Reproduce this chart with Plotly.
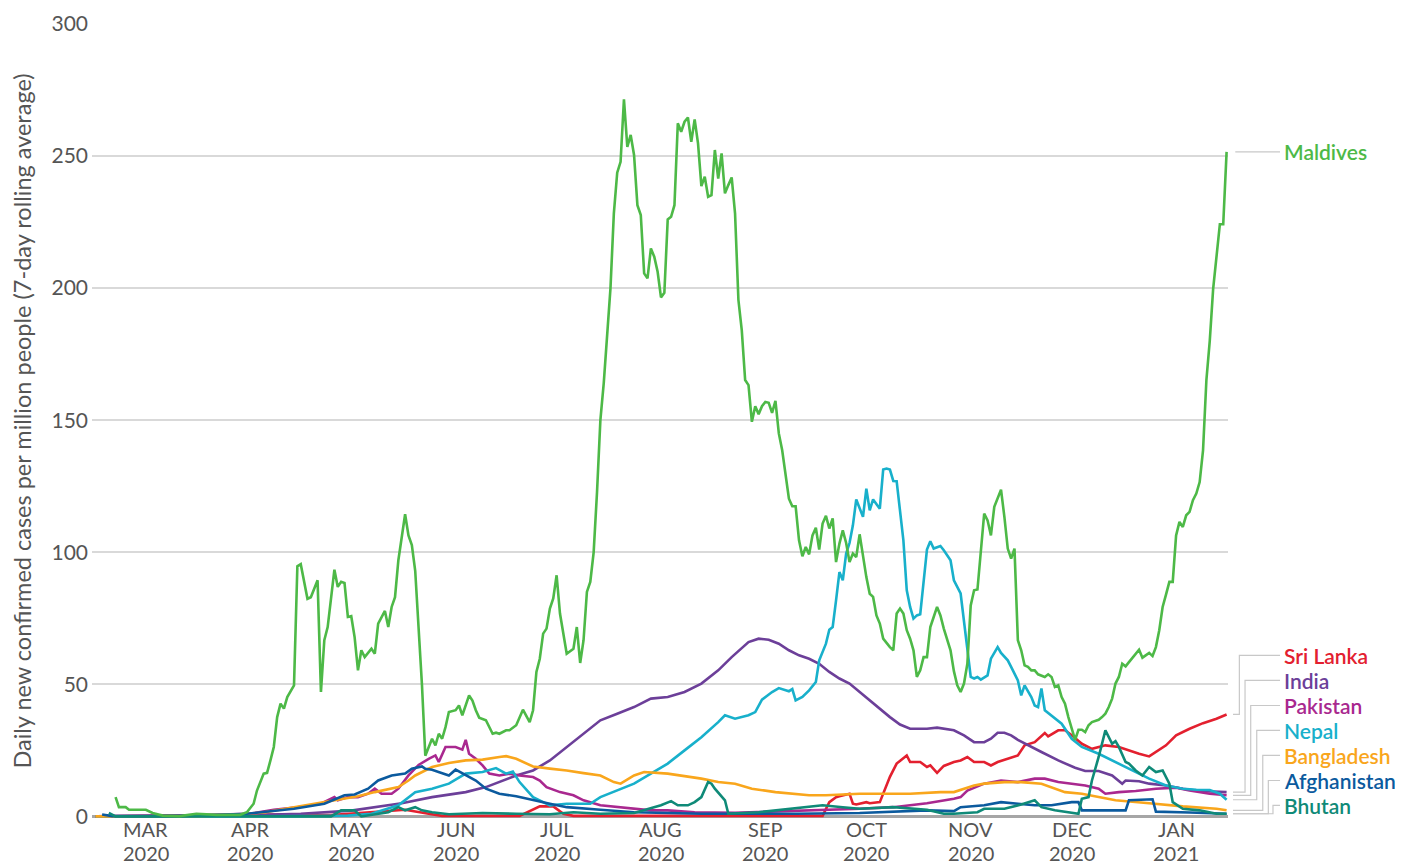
import plotly.graph_objects as go

# ---------------- data (7-day rolling average, cases per million) ----------------
maldives_dates = [
    "2020-03-07","2020-03-08","2020-03-10","2020-03-11","2020-03-16","2020-03-18","2020-03-21","2020-03-26",
    "2020-03-31","2020-04-06","2020-04-13","2020-04-15","2020-04-17","2020-04-18","2020-04-20","2020-04-21",
    "2020-04-22","2020-04-23","2020-04-24","2020-04-25","2020-04-26","2020-04-27","2020-04-29","2020-04-30",
    "2020-05-01","2020-05-03","2020-05-04","2020-05-06","2020-05-07","2020-05-08","2020-05-09","2020-05-11",
    "2020-05-12","2020-05-13","2020-05-14","2020-05-15","2020-05-16","2020-05-17","2020-05-18","2020-05-19",
    "2020-05-20","2020-05-22","2020-05-23","2020-05-24","2020-05-26","2020-05-27","2020-05-28","2020-05-29",
    "2020-05-30","2020-05-31","2020-06-01","2020-06-02","2020-06-03","2020-06-04","2020-06-05","2020-06-06",
    "2020-06-07","2020-06-08","2020-06-09","2020-06-10","2020-06-11","2020-06-12","2020-06-13","2020-06-14",
    "2020-06-16","2020-06-17","2020-06-18","2020-06-20","2020-06-21","2020-06-22","2020-06-23","2020-06-25",
    "2020-06-27","2020-06-28","2020-06-29","2020-07-01","2020-07-02","2020-07-04","2020-07-06","2020-07-08",
    "2020-07-09","2020-07-10","2020-07-11","2020-07-12","2020-07-13","2020-07-14","2020-07-15","2020-07-16",
    "2020-07-17","2020-07-19","2020-07-21","2020-07-22","2020-07-23","2020-07-24","2020-07-25","2020-07-26",
    "2020-07-27","2020-07-28","2020-07-29","2020-07-30","2020-07-31","2020-08-01","2020-08-02","2020-08-03",
    "2020-08-04","2020-08-05","2020-08-06","2020-08-07","2020-08-08","2020-08-09","2020-08-10","2020-08-11",
    "2020-08-12","2020-08-13","2020-08-14","2020-08-15","2020-08-16","2020-08-17","2020-08-18","2020-08-19",
    "2020-08-20","2020-08-21","2020-08-22","2020-08-23","2020-08-24","2020-08-25","2020-08-26","2020-08-27",
    "2020-08-28","2020-08-29","2020-08-30","2020-08-31","2020-09-01","2020-09-02","2020-09-03","2020-09-04",
    "2020-09-05","2020-09-06","2020-09-07","2020-09-08","2020-09-09","2020-09-10","2020-09-11","2020-09-12",
    "2020-09-13","2020-09-14","2020-09-15","2020-09-16","2020-09-17","2020-09-18","2020-09-19","2020-09-20",
    "2020-09-21","2020-09-22","2020-09-23","2020-09-24","2020-09-25","2020-09-26","2020-09-27","2020-09-28",
    "2020-09-29","2020-09-30","2020-10-01","2020-10-02","2020-10-03","2020-10-04","2020-10-05","2020-10-06",
    "2020-10-07","2020-10-08","2020-10-09","2020-10-10","2020-10-11","2020-10-12","2020-10-13","2020-10-14",
    "2020-10-15","2020-10-16","2020-10-17","2020-10-18","2020-10-19","2020-10-20","2020-10-21","2020-10-22",
    "2020-10-23","2020-10-24","2020-10-25","2020-10-26","2020-10-27","2020-10-28","2020-10-29","2020-10-30",
    "2020-10-31","2020-11-01","2020-11-02","2020-11-03","2020-11-04","2020-11-05","2020-11-06","2020-11-07",
    "2020-11-08","2020-11-10","2020-11-11","2020-11-12","2020-11-13","2020-11-14","2020-11-15","2020-11-16",
    "2020-11-17","2020-11-18","2020-11-19","2020-11-20","2020-11-21","2020-11-22","2020-11-23","2020-11-24",
    "2020-11-25","2020-11-26","2020-11-27","2020-11-28","2020-11-29","2020-11-30","2020-12-01","2020-12-02",
    "2020-12-03","2020-12-04","2020-12-05","2020-12-06","2020-12-08","2020-12-09","2020-12-10","2020-12-11",
    "2020-12-12","2020-12-13","2020-12-14","2020-12-15","2020-12-16","2020-12-17","2020-12-18","2020-12-19",
    "2020-12-20","2020-12-21","2020-12-22","2020-12-24","2020-12-25","2020-12-26","2020-12-27","2020-12-28",
    "2020-12-29","2020-12-30","2020-12-31","2021-01-01","2021-01-02","2021-01-04","2021-01-05","2021-01-06",
    "2021-01-07","2021-01-08","2021-01-09","2021-01-10","2021-01-11","2021-01-12","2021-01-13","2021-01-14",
    "2021-01-15","2021-01-16","2021-01-17","2021-01-18","2021-01-19","2021-01-20","2021-01-21","2021-01-22",
    "2021-01-23","2021-01-24","2021-01-25","2021-01-26","2021-01-27","2021-01-28","2021-01-29","2021-01-30",
    "2021-01-31",
]
maldives_values = [
    7.3, 3.5, 3.5, 2.5, 2.5, 1.3, 0.3, 0.1,
    1.0, 0.6, 0.6, 1.6, 4.8, 9.8, 16.2, 16.5,
    21.2, 26.3, 37.6, 42.7, 40.8, 45.2, 49.6, 94.7,
    95.5, 82.4, 83.0, 89.4, 47.1, 66.7, 71.7, 93.4,
    86.9, 88.8, 88.4, 75.5, 75.8, 67.9, 55.3, 62.9,
    60.3, 63.5, 61.6, 73.0, 77.8, 71.7, 79.3, 83.0,
    97.0, 106.0, 114.4, 106.4, 102.7, 93.0, 72.0, 50.0,
    23.0, 26.3, 29.4, 26.9, 31.3, 29.4, 33.8, 39.5,
    40.2, 42.0, 38.3, 45.8, 43.9, 40.2, 37.4, 36.4,
    31.3, 31.7, 31.3, 32.6, 32.6, 34.5, 40.4, 35.7,
    40.2, 54.7, 59.7, 69.2, 71.1, 78.7, 82.5, 91.3,
    76.8, 61.6, 63.5, 71.7, 58.1, 66.7, 85.0, 88.8,
    100.0, 122.7, 150.0, 164.0, 184.0, 200.0, 228.3, 243.7,
    247.8, 271.5, 253.5, 258.0, 250.4, 231.4, 227.7, 205.6,
    203.7, 215.0, 211.9, 206.2, 196.5, 198.2, 226.0, 227.0,
    231.4, 262.4, 259.2, 263.0, 264.6, 255.4, 263.9, 254.8,
    238.6, 242.2, 234.6, 235.2, 252.3, 241.5, 251.0, 235.9,
    239.0, 241.9, 228.3, 195.5, 184.0, 165.2, 163.3, 149.4,
    155.3, 152.3, 155.3, 156.9, 156.6, 152.8, 157.3, 145.0,
    138.6, 129.2, 120.3, 117.4, 117.4, 104.5, 98.5, 102.0,
    99.2, 106.4, 109.3, 101.0, 110.9, 113.8, 109.0, 112.8,
    96.3, 103.3, 108.3, 103.5, 96.3, 99.5, 98.2, 106.8,
    98.2, 90.6, 84.3, 83.1, 76.1, 73.0, 67.3, 65.5,
    64.1, 62.9, 76.8, 78.7, 76.8, 70.5, 67.3, 62.9,
    52.8, 55.3, 60.3, 60.3, 71.7, 75.5, 79.3, 76.1,
    71.1, 62.9, 55.0, 49.6, 47.1, 50.3, 57.8, 79.9,
    85.6, 85.9, 100.8, 114.6, 112.1, 106.4, 117.2, 120.3,
    123.7, 113.4, 101.4, 97.6, 101.4, 66.7, 62.9, 57.2,
    56.6, 55.3, 55.3, 53.8, 52.8, 53.8, 52.8, 49.0,
    49.6, 45.2, 42.7, 37.6, 33.2, 29.0, 32.8, 32.8,
    31.9, 34.5, 35.7, 36.6, 37.6, 38.9, 41.4, 44.6,
    50.3, 52.8, 57.8, 56.8, 58.4, 61.4, 63.1, 60.1,
    61.0, 61.9, 60.7, 64.1, 70.5, 79.3, 84.0, 88.8,
    88.8, 106.4, 111.5, 109.6, 114.0, 115.3, 119.7, 122.2,
    126.6, 138.6, 165.2, 180.0, 199.6, 212.0, 224.2, 224.2,
    251.6,
]

sri_lanka_dates = [
    "2020-03-01","2020-03-20","2020-04-10","2020-04-25","2020-05-10","2020-05-20","2020-06-01","2020-06-08",
    "2020-06-12","2020-07-05","2020-07-09","2020-07-11","2020-07-15","2020-07-18","2020-07-21","2020-09-25",
    "2020-10-03","2020-10-05","2020-10-07","2020-10-08","2020-10-11","2020-10-12","2020-10-13","2020-10-16",
    "2020-10-17","2020-10-20","2020-10-22","2020-10-23","2020-10-25","2020-10-28","2020-10-29","2020-11-01",
    "2020-11-03","2020-11-04","2020-11-06","2020-11-08","2020-11-11","2020-11-13","2020-11-15","2020-11-17",
    "2020-11-20","2020-11-22","2020-11-24","2020-11-27","2020-11-30","2020-12-02","2020-12-05","2020-12-08",
    "2020-12-09","2020-12-12","2020-12-14","2020-12-16","2020-12-19","2020-12-22","2020-12-26","2020-12-30",
    "2021-01-03","2021-01-05","2021-01-08","2021-01-10","2021-01-13","2021-01-16","2021-01-20","2021-01-24",
    "2021-01-28","2021-01-31",
]
sri_lanka_values = [
    0.0, 0.2, 0.3, 0.7, 0.5, 1.5, 2.5, 1.0,
    0.2, 0.2, 2.5, 3.8, 3.8, 1.0, 0.2, 0.2,
    0.2, 5.4, 7.3, 7.6, 8.6, 4.8, 4.5, 5.4,
    5.0, 5.4, 12.0, 15.0, 20.0, 23.1, 20.6, 20.6,
    18.7, 19.3, 16.5, 19.1, 20.6, 21.2, 22.5, 20.6,
    20.6, 19.3, 20.6, 21.8, 23.1, 26.9, 28.1, 31.6,
    30.3, 32.6, 32.6, 30.7, 27.5, 25.6, 26.9, 26.3,
    24.4, 23.7, 22.7, 24.4, 26.9, 30.7, 33.2, 35.3,
    37.0, 38.6,
]

india_dates = [
    "2020-03-01","2020-03-16","2020-04-01","2020-04-16","2020-05-01","2020-05-16","2020-05-31","2020-06-09",
    "2020-06-19","2020-06-25","2020-07-04","2020-07-09","2020-07-14","2020-07-19","2020-07-24","2020-07-29",
    "2020-08-03","2020-08-08","2020-08-13","2020-08-18","2020-08-23","2020-08-28","2020-09-02","2020-09-06",
    "2020-09-11","2020-09-14","2020-09-17","2020-09-20","2020-09-23","2020-09-26","2020-09-29","2020-10-02",
    "2020-10-05","2020-10-08","2020-10-11","2020-10-14","2020-10-17","2020-10-20","2020-10-23","2020-10-26",
    "2020-10-29","2020-11-03","2020-11-06","2020-11-11","2020-11-14","2020-11-17","2020-11-20","2020-11-22",
    "2020-11-24","2020-11-26","2020-11-28","2020-11-30","2020-12-03","2020-12-07","2020-12-12","2020-12-17",
    "2020-12-20","2020-12-24","2020-12-28","2020-12-31","2021-01-01","2021-01-05","2021-01-08","2021-01-13",
    "2021-01-18","2021-01-23","2021-01-31",
]
india_values = [
    0.0, 0.1, 0.2, 0.5, 1.0, 2.2, 5.0, 7.3,
    9.2, 11.1, 15.5, 17.4, 21.2, 26.3, 31.3, 36.4,
    38.9, 41.4, 44.6, 45.2, 47.1, 50.3, 55.3, 60.3,
    66.0, 67.3, 66.9, 65.4, 62.9, 61.0, 59.7, 57.8,
    54.7, 52.2, 50.3, 47.1, 43.9, 40.8, 37.6, 34.8,
    33.2, 33.2, 33.6, 32.6, 30.7, 28.1, 28.1, 29.4,
    31.7, 31.7, 30.7, 29.0, 26.9, 24.4, 21.2, 18.4,
    17.2, 17.2, 15.5, 12.4, 13.6, 13.3, 12.4, 11.7,
    10.5, 9.6, 9.2,
]

pakistan_dates = [
    "2020-03-01","2020-03-16","2020-04-01","2020-04-16","2020-04-23","2020-04-30","2020-05-07","2020-05-11",
    "2020-05-12","2020-05-15","2020-05-18","2020-05-21","2020-05-23","2020-05-25","2020-05-28","2020-05-30",
    "2020-06-02","2020-06-05","2020-06-08","2020-06-10","2020-06-11","2020-06-13","2020-06-16","2020-06-18",
    "2020-06-19","2020-06-20","2020-06-22","2020-06-24","2020-06-26","2020-06-29","2020-07-02","2020-07-05",
    "2020-07-09","2020-07-11","2020-07-13","2020-07-17","2020-07-21","2020-07-24","2020-07-29","2020-08-03",
    "2020-08-08","2020-08-13","2020-08-18","2020-08-26","2020-09-07","2020-09-12","2020-09-22","2020-10-04",
    "2020-10-14","2020-10-24","2020-11-03","2020-11-11","2020-11-13","2020-11-15","2020-11-20","2020-11-25",
    "2020-11-30","2020-12-05","2020-12-08","2020-12-12","2020-12-16","2020-12-20","2020-12-24","2020-12-26",
    "2020-12-30","2021-01-04","2021-01-10","2021-01-16","2021-01-20","2021-01-26","2021-01-31",
]
pakistan_values = [
    0.0, 0.1, 0.5, 1.0, 2.5, 3.5, 4.8, 7.3,
    6.1, 7.3, 7.3, 8.6, 10.5, 8.6, 8.6, 10.5,
    15.5, 19.5, 21.8, 23.1, 20.6, 26.3, 26.3, 25.3,
    29.0, 23.7, 21.8, 19.3, 16.2, 15.5, 16.2, 15.5,
    14.9, 13.6, 11.1, 9.2, 8.0, 6.1, 4.2, 3.5,
    2.9, 2.3, 2.3, 1.6, 1.4, 1.6, 1.8, 2.3,
    2.9, 3.5, 5.0, 6.7, 7.3, 9.8, 12.4, 13.6,
    13.0, 14.3, 14.3, 13.0, 12.4, 11.7, 10.5, 8.6,
    9.2, 9.6, 10.5, 10.9, 9.8, 8.6, 8.0,
]

nepal_dates = [
    "2020-03-01","2020-04-01","2020-05-01","2020-05-15","2020-05-22","2020-05-30","2020-06-04","2020-06-09",
    "2020-06-14","2020-06-19","2020-06-24","2020-06-28","2020-07-01","2020-07-03","2020-07-05","2020-07-09",
    "2020-07-14","2020-07-19","2020-07-26","2020-07-29","2020-08-03","2020-08-08","2020-08-13","2020-08-18",
    "2020-08-23","2020-08-28","2020-09-02","2020-09-04","2020-09-07","2020-09-11","2020-09-13","2020-09-15",
    "2020-09-18","2020-09-20","2020-09-23","2020-09-24","2020-09-25","2020-09-27","2020-09-29","2020-10-01",
    "2020-10-02","2020-10-04","2020-10-05","2020-10-06","2020-10-07","2020-10-08","2020-10-09","2020-10-10",
    "2020-10-11","2020-10-12","2020-10-13","2020-10-15","2020-10-16","2020-10-17","2020-10-18","2020-10-20",
    "2020-10-21","2020-10-22","2020-10-23","2020-10-24","2020-10-25","2020-10-26","2020-10-27","2020-10-28",
    "2020-10-29","2020-10-30","2020-10-31","2020-11-01","2020-11-02","2020-11-03","2020-11-04","2020-11-05",
    "2020-11-07","2020-11-08","2020-11-10","2020-11-11","2020-11-13","2020-11-14","2020-11-15","2020-11-16",
    "2020-11-17","2020-11-18","2020-11-19","2020-11-21","2020-11-22","2020-11-24","2020-11-25","2020-11-27",
    "2020-11-28","2020-11-30","2020-12-01","2020-12-02","2020-12-04","2020-12-05","2020-12-06","2020-12-07",
    "2020-12-08","2020-12-10","2020-12-13","2020-12-16","2020-12-19","2020-12-24","2020-12-29","2021-01-03",
    "2021-01-08","2021-01-13","2021-01-18","2021-01-22","2021-01-26","2021-01-29","2021-01-31",
]
nepal_values = [
    0.0, 0.0, 0.1, 0.3, 1.0, 4.2, 9.2, 10.5,
    12.4, 16.2, 16.8, 18.3, 16.2, 17.0, 13.0, 7.3,
    4.2, 4.8, 4.8, 7.3, 9.8, 12.4, 16.2, 20.0,
    25.0, 30.0, 35.7, 38.3, 37.0, 38.3, 39.5, 44.2,
    47.1, 48.6, 47.4, 48.2, 43.9, 45.2, 47.7, 50.9,
    59.1, 65.4, 70.7, 71.7, 81.8, 92.5, 89.4, 99.5,
    103.5, 110.2, 120.0, 113.4, 124.1, 115.9, 120.0, 116.5,
    131.3, 131.7, 131.3, 127.0, 126.9, 114.6, 104.5, 85.6,
    79.3, 74.9, 76.1, 76.5, 90.0, 101.0, 104.2, 101.4,
    102.4, 100.8, 97.0, 89.4, 84.4, 74.2, 64.1, 52.8,
    52.2, 52.8, 51.8, 53.4, 59.7, 64.1, 61.9, 59.1,
    56.6, 51.5, 45.8, 49.6, 45.2, 42.0, 41.4, 48.4,
    40.2, 38.3, 35.1, 29.4, 26.3, 23.7, 20.6, 17.4,
    14.3, 11.7, 10.5, 10.1, 10.0, 8.6, 6.3,
]

bangladesh_dates = [
    "2020-03-01","2020-04-01","2020-04-10","2020-04-20","2020-04-29","2020-05-08","2020-05-18","2020-05-23",
    "2020-05-30","2020-06-02","2020-06-04","2020-06-09","2020-06-14","2020-06-19","2020-06-24","2020-06-29",
    "2020-07-01","2020-07-04","2020-07-09","2020-07-14","2020-07-19","2020-07-24","2020-07-29","2020-08-02",
    "2020-08-04","2020-08-08","2020-08-11","2020-08-18","2020-08-23","2020-08-28","2020-09-02","2020-09-07",
    "2020-09-12","2020-09-19","2020-09-29","2020-10-04","2020-10-14","2020-10-29","2020-11-07","2020-11-11",
    "2020-11-17","2020-11-20","2020-11-26","2020-12-01","2020-12-07","2020-12-14","2020-12-19","2020-12-24",
    "2020-12-29","2021-01-08","2021-01-18","2021-01-28","2021-01-31",
]
bangladesh_values = [
    0.0, 0.1, 0.5, 1.5, 3.5, 5.4, 7.6, 9.2,
    11.1, 13.6, 15.5, 18.7, 20.2, 21.2, 21.5, 22.5,
    22.8, 21.8, 18.9, 18.1, 17.4, 16.4, 15.5, 13.0,
    12.4, 15.5, 16.8, 16.2, 15.2, 14.3, 13.0, 12.4,
    10.5, 9.2, 8.0, 8.0, 8.6, 8.6, 9.2, 9.2,
    11.7, 12.4, 13.0, 13.0, 12.4, 9.2, 8.6, 7.3,
    6.1, 5.0, 3.8, 2.9, 2.3,
]

afghanistan_dates = [
    "2020-03-03","2020-03-06","2020-03-20","2020-04-01","2020-04-15","2020-04-29","2020-05-08","2020-05-14",
    "2020-05-17","2020-05-21","2020-05-24","2020-05-28","2020-06-01","2020-06-03","2020-06-06","2020-06-07",
    "2020-06-09","2020-06-11","2020-06-14","2020-06-16","2020-06-19","2020-06-22","2020-06-25","2020-06-29",
    "2020-07-04","2020-07-09","2020-07-14","2020-07-19","2020-07-24","2020-07-29","2020-08-08","2020-08-18",
    "2020-08-28","2020-09-12","2020-09-25","2020-10-14","2020-11-03","2020-11-11","2020-11-13","2020-11-20",
    "2020-11-23","2020-11-25","2020-11-30","2020-12-05","2020-12-10","2020-12-16","2020-12-18","2020-12-19",
    "2021-01-01","2021-01-02","2021-01-09","2021-01-10","2021-01-20","2021-01-31",
]
afghanistan_values = [
    0.7, 0.1, 0.1, 0.3, 1.0, 2.9, 4.8, 8.0,
    8.3, 10.5, 13.6, 15.5, 16.2, 18.1, 18.9, 18.0,
    17.7, 16.8, 15.5, 17.7, 15.5, 13.6, 10.5, 8.6,
    7.6, 6.1, 4.8, 3.5, 2.9, 2.5, 1.6, 1.3,
    1.0, 1.0, 1.0, 1.3, 2.3, 2.0, 3.5, 4.2,
    4.8, 5.4, 4.8, 4.2, 4.2, 5.4, 5.4, 2.3,
    2.3, 6.1, 6.5, 1.8, 1.5, 1.0,
]

bhutan_dates = [
    "2020-03-05","2020-03-07","2020-05-10","2020-05-13","2020-05-17","2020-05-19","2020-05-27","2020-05-30",
    "2020-06-01","2020-06-04","2020-06-06","2020-06-09","2020-06-14","2020-06-24","2020-07-04","2020-07-14",
    "2020-07-21","2020-07-29","2020-08-08","2020-08-11","2020-08-16","2020-08-19","2020-08-21","2020-08-24",
    "2020-08-26","2020-08-28","2020-08-30","2020-08-31","2020-09-01","2020-09-04","2020-09-05","2020-09-14",
    "2020-09-24","2020-10-03","2020-10-09","2020-10-14","2020-10-24","2020-11-03","2020-11-08","2020-11-11",
    "2020-11-18","2020-11-20","2020-11-26","2020-12-01","2020-12-05","2020-12-07","2020-12-11","2020-12-18",
    "2020-12-19","2020-12-21","2020-12-22","2020-12-24","2020-12-26","2020-12-28","2020-12-29","2020-12-30",
    "2021-01-01","2021-01-02","2021-01-04","2021-01-06","2021-01-08","2021-01-10","2021-01-12","2021-01-14",
    "2021-01-15","2021-01-18","2021-01-23","2021-01-28","2021-01-31",
]
bhutan_values = [
    1.3, 0.0, 0.0, 2.3, 2.3, 0.0, 1.6, 3.5,
    2.3, 3.5, 2.3, 1.6, 0.8, 1.3, 1.0, 0.8,
    1.6, 1.0, 1.3, 2.3, 4.2, 5.8, 4.2, 4.2,
    5.4, 7.3, 13.0, 12.4, 10.5, 6.1, 1.0, 1.6,
    2.9, 4.2, 3.5, 2.9, 3.5, 2.5, 1.0, 1.0,
    1.6, 2.9, 2.9, 4.5, 6.1, 3.5, 2.3, 1.0,
    6.7, 7.3, 13.6, 22.5, 32.6, 27.5, 28.5, 26.3,
    20.6, 20.0, 17.4, 15.5, 18.7, 16.8, 17.4, 12.4,
    5.4, 2.9, 2.3, 1.0, 1.0,
]

# x labels (mid-month positions): month on the first row, year on the second
tick_dates = ["2020-03-16","2020-04-16","2020-05-16","2020-06-16","2020-07-16","2020-08-16",
              "2020-09-16","2020-10-16","2020-11-16","2020-12-16","2021-01-16"]
tick_months = ["MAR","APR","MAY","JUN","JUL","AUG","SEP","OCT","NOV","DEC","JAN"]
tick_years = ["2020","2020","2020","2020","2020","2020","2020","2020","2020","2020","2021"]
y_ticks = [0, 50, 100, 150, 200, 250, 300]

# ---------------- styling ----------------
series = [
    ("Sri Lanka", sri_lanka_dates, sri_lanka_values, "#e3202f"),
    ("India", india_dates, india_values, "#6c3f99"),
    ("Pakistan", pakistan_dates, pakistan_values, "#a9288f"),
    ("Nepal", nepal_dates, nepal_values, "#18b0cb"),
    ("Bangladesh", bangladesh_dates, bangladesh_values, "#f9a61c"),
    ("Afghanistan", afghanistan_dates, afghanistan_values, "#0b5a9e"),
    ("Bhutan", bhutan_dates, bhutan_values, "#0f8a78"),
    ("Maldives", maldives_dates, maldives_values, "#4db947"),
]

# label layout (label vertical positions in axis units, elbow x in paper units)
label_pos = {"Maldives": 251.9, "Sri Lanka": 61.0, "India": 51.5, "Pakistan": 42.0, "Nepal": 32.6,
             "Bangladesh": 23.1, "Afghanistan": 13.6, "Bhutan": 4.2}
elbow_x = {"Sri Lanka": 1.0100, "India": 1.0150, "Pakistan": 1.0200, "Nepal": 1.0253,
           "Bangladesh": 1.0306, "Afghanistan": 1.0355, "Bhutan": 1.0396}

FONT = "Lato, 'Open Sans', sans-serif"
GREY = "#555555"

fig = go.Figure()
for name, d, v, c in series:
    fig.add_trace(go.Scatter(x=d, y=v, mode="lines", name=name,
                             line=dict(color=c, width=2.6), showlegend=False))

shapes = []
annotations = []
x_start = 1.0044
x_end = 1.0458
x_text = 1.0474
for name, d, v, c in series:
    last = v[-1]
    ly = label_pos[name]
    if name in elbow_x:
        ex = elbow_x[name]
        path = f"M {x_start},{last} H {ex} V {ly} H {x_end}"
    else:
        path = f"M {x_start + 0.002},{last} H {x_end}"
    shapes.append(dict(type="path", xref="paper", yref="y", path=path,
                       line=dict(color="#c8c8c8", width=1.2), layer="above"))
    annotations.append(dict(xref="paper", yref="y", x=x_text, y=ly, text=name,
                            showarrow=False, xanchor="left", yanchor="middle",
                            font=dict(family=FONT, size=21, color=c, weight=600)))

# two-row date labels under the axis
for d, mo, yr in zip(tick_dates, tick_months, tick_years):
    annotations.append(dict(xref="x", yref="paper", x=d, y=-0.0140, text=mo,
                            showarrow=False, xanchor="center", yanchor="middle",
                            font=dict(family=FONT, size=20, color=GREY)))
    annotations.append(dict(xref="x", yref="paper", x=d, y=-0.0441, text=yr,
                            showarrow=False, xanchor="center", yanchor="middle",
                            font=dict(family=FONT, size=20, color=GREY)))

# the page body adds an 8px offset, so the figure is sized/margined to compensate
fig.update_layout(
    width=1395, height=857,
    margin=dict(l=84, r=175, t=16, b=47),
    plot_bgcolor="white", paper_bgcolor="white",
    shapes=shapes, annotations=annotations,
    font=dict(family=FONT, color=GREY, size=21),
    xaxis=dict(
        type="date",
        range=["2020-02-29", "2021-01-31 10:00"],
        showticklabels=False,
        showgrid=False, showline=False, zeroline=False, ticks="",
        automargin=False,
    ),
    yaxis=dict(
        range=[-0.6, 300],
        tickvals=y_ticks,
        showgrid=True, gridcolor="#d9d9d9", gridwidth=1.5,
        zeroline=True, zerolinecolor="#a6a6a6", zerolinewidth=3,
        ticks="", showline=False, ticklabelstandoff=3,
        tickfont=dict(family=FONT, size=21, color=GREY),
        title=dict(text="Daily new confirmed cases per million people (7-day rolling average)",
                   font=dict(family=FONT, size=23.5, color=GREY), standoff=13),
        automargin=False,
    ),
)

fig.write_html("out.html")
